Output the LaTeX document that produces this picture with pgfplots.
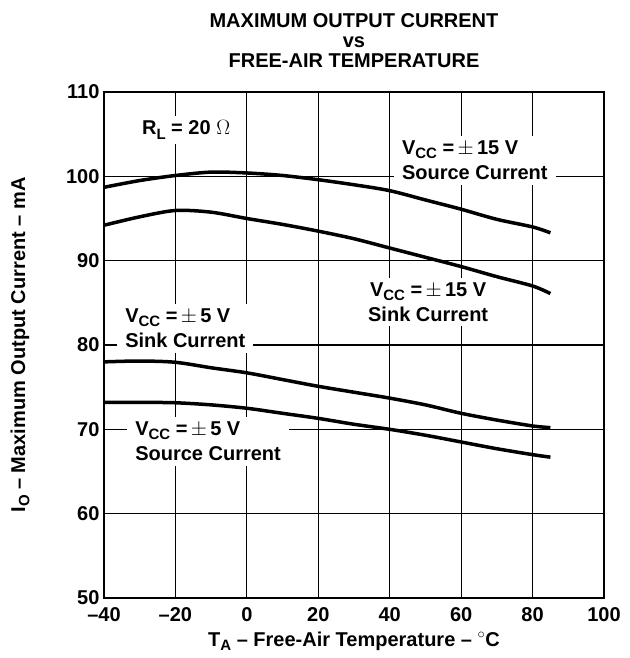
\documentclass[border=0pt]{standalone}
\usepackage{fontspec}
\setmainfont{Liberation Sans}
\usepackage{pgfplots}
\pgfplotsset{compat=1.18}
\newcommand{\sub}[1]{\raisebox{-0.4ex}{\fontsize{15}{15}\selectfont #1}}
\newcommand{\pmm}{{\mdseries\,$\pm$\,}}
\begin{document}
\begin{tikzpicture}
\tikzset{curve/.style={black, line width=3.5pt, smooth, tension=0.5, mark=none}}
\path[use as bounding box] (-104pt,-60pt) rectangle (525pt,598pt);
\begin{axis}[
  at={(0pt,0pt)}, anchor=south west,
  scale only axis, width=500pt, height=506pt,
  xmin=-40, xmax=100, ymin=50, ymax=110,
  xtick={-40,-20,0,20,40,60,80,100},
  xticklabels={–40,–20,0,20,40,60,80,100},
  ytick={50,60,70,80,90,100,110},
  yticklabels={50,60,70,80,90,100,110},
  grid=major,
  major grid style={black, line width=1.1pt},
  axis line style={black, line width=2.6pt},
  major tick length=0pt,
  tick label style={font=\fontsize{20}{24}\selectfont\bfseries},
  xticklabel style={yshift=-6pt},
  yticklabel style={xshift=-1pt},
  xlabel={T\sub{A} – Free-Air Temperature – {\mdseries$^\circ$}C},
  ylabel={I\sub{O} – Maximum Output Current – mA},
  label style={font=\fontsize{20}{24}\selectfont\bfseries},
  xlabel style={at={(axis description cs:0.5,0)}, anchor=center, yshift=-43pt},
  ylabel style={at={(axis description cs:0,0.5)}, anchor=center, rotate=0, yshift=84pt},
]
% VCC = +-15 V source
\addplot[curve] coordinates {(-40,98.7) (-30,99.5) (-20,100.1) (-10,100.5) (0,100.4) (10,100.1) (20,99.6) (30,99.0) (40,98.3) (50,97.2) (60,96.1) (70,94.9) (80,94.0) (85,93.3)};
% VCC = +-15 V sink
\addplot[curve] coordinates {(-40,94.2) (-30,95.2) (-20,95.95) (-10,95.75) (0,95.0) (10,94.3) (20,93.5) (30,92.6) (40,91.5) (50,90.4) (60,89.3) (70,88.1) (80,87.0) (85,86.1)};
% VCC = +-5 V sink
\addplot[curve] coordinates {(-40,78.0) (-30,78.1) (-20,77.95) (-10,77.3) (0,76.7) (10,75.9) (20,75.1) (30,74.4) (40,73.7) (50,72.9) (60,71.9) (70,71.1) (80,70.4) (85,70.2)};
% VCC = +-5 V source
\addplot[curve] coordinates {(-40,73.2) (-30,73.2) (-20,73.15) (-10,72.9) (0,72.5) (10,71.9) (20,71.3) (30,70.6) (40,70.0) (50,69.3) (60,68.5) (70,67.7) (80,67.0) (85,66.7)};
\tikzset{lab/.style={fill=white, align=left, anchor=west, inner xsep=8pt, inner ysep=5pt, xshift=-8pt, font=\fontsize{20}{25}\selectfont\bfseries}}
\node[lab] at (axis cs:-29.4,105.5) {R\sub{L} = 20 {\mdseries$\Omega$}};
\node[lab] at (axis cs:43.4,101.9) {V\sub{CC} =\pmm15 V\\Source Current};
\node[lab, align=center] at (axis cs:33.9,85.1) {V\sub{CC} =\pmm15 V\\Sink Current};
\node[lab] at (axis cs:-34.1,82.0) {V\sub{CC} =\pmm5 V\\Sink Current};
\node[lab] at (axis cs:-31.3,68.6) {V\sub{CC} =\pmm5 V\\Source Current};
\end{axis}
\node[align=center, font=\fontsize{20}{20}\selectfont\bfseries] at (250pt,557pt) {MAXIMUM OUTPUT CURRENT\\vs\\FREE-AIR TEMPERATURE};
\end{tikzpicture}
\end{document}
